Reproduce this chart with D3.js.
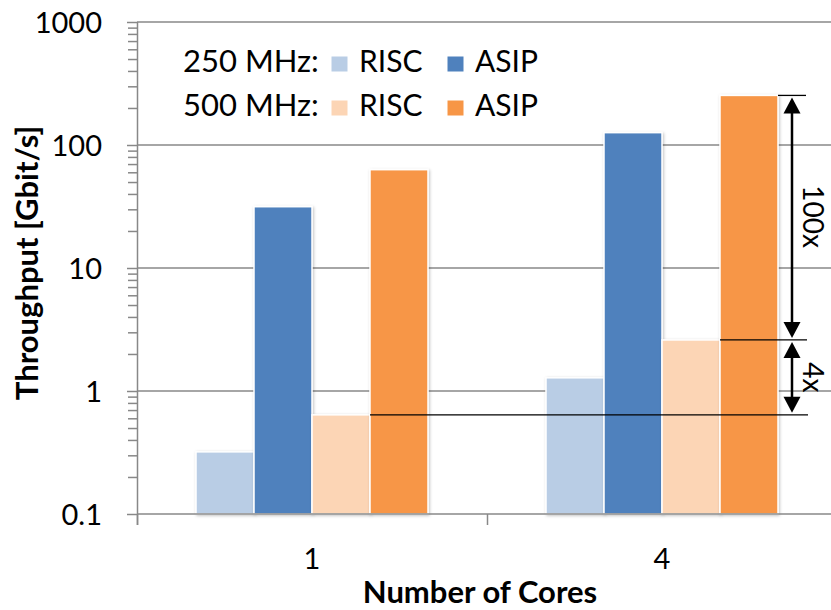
<!DOCTYPE html>
<html>
<head>
<meta charset="utf-8">
<script src="https://cdn.jsdelivr.net/npm/d3@7"></script>
<style>
  body { margin: 0; background: #fff; }
  text { font-family: Lato, "Open Sans", sans-serif; fill: #000; }
</style>
</head>
<body>
<div id="container"></div>
<script>
// data
const categories = ["1", "4"];
const risc250 = [0.32, 1.28];
const asip250 = [31.5, 126];
const risc500 = [0.64, 2.6];
const asip500 = [63, 253];
const seriesKeys = ["risc250", "asip250", "risc500", "asip500"];
const seriesColors = ["#b9cde5", "#4f81bd", "#fcd5b5", "#f79646"];
const freqLabels = ["250 MHz:", "500 MHz:"];
const archLabels = ["RISC", "ASIP"];
const yTicks = [0.1, 1, 10, 100, 1000];
const ratioLabels = ["100x", "4x"];

const w = 831, h = 610;
const padL = 137, padT = 22, padB = 514, padR = 837;

const table = categories.map((c, i) => ({
  cat: c, risc250: risc250[i], asip250: asip250[i], risc500: risc500[i], asip500: asip500[i]
}));

const svg = d3.select("#container").append("svg")
  .attr("width", w).attr("height", h);

const defs = svg.append("defs");
const f = defs.append("filter").attr("id", "shadow")
  .attr("x", "-20%").attr("y", "-20%").attr("width", "140%").attr("height", "140%");
f.append("feDropShadow").attr("dx", 1).attr("dy", 1).attr("stdDeviation", 1.5)
  .attr("flood-color", "#000").attr("flood-opacity", 0.25);

const x0 = d3.scaleBand().domain(categories).range([padL, padR]).padding(0);
const x1 = d3.scaleBand().domain(seriesKeys)
  .range([0, x0.bandwidth() * 232 / 350]).padding(0);
const offset = (x0.bandwidth() - x1.range()[1]) / 2;
const y = d3.scaleLog().domain([0.1, 1000]).range([padB, padT]);

// gridlines
svg.append("g").selectAll("line").data(yTicks.slice(1)).enter().append("line")
  .attr("x1", padL).attr("x2", padR)
  .attr("y1", d => y(d)).attr("y2", d => y(d))
  .attr("stroke", "#888").attr("stroke-width", 1.5);

// minor ticks
const minor = [];
yTicks.slice(0, -1).forEach(t => { for (let k = 2; k < 10; k++) minor.push(t * k); });
svg.append("g").attr("transform", "translate(" + padL + ",0)")
  .call(d3.axisLeft(y).tickValues(minor).tickSize(9).tickFormat(""))
  .call(g => g.select(".domain").remove())
  .call(g => g.selectAll("line").attr("stroke", "#888").attr("stroke-width", 1.5));

// y axis
svg.append("g").attr("id", "y-axis").attr("transform", "translate(" + padL + ",0)")
  .call(d3.axisLeft(y).tickValues(yTicks).tickSize(10).tickPadding(25)
    .tickFormat(d => String(d)))
  .call(g => g.select(".domain").attr("stroke", "#888").attr("stroke-width", 1.5)
    .attr("d", "M0.5," + padT + "V" + (padB + 11)))
  .call(g => g.selectAll("line").attr("stroke", "#888").attr("stroke-width", 1.5))
  .call(g => g.selectAll("text").attr("font-size", 29).attr("font-family", "Lato").attr("dy", "0.36em"));

// bars
const groups = svg.append("g").selectAll("g").data(table).enter().append("g")
  .attr("transform", d => "translate(" + (x0(d.cat) + offset) + ",0)");
groups.selectAll("rect")
  .data(d => seriesKeys.map((k, i) => ({ key: k, value: d[k], color: seriesColors[i] })))
  .enter().append("rect")
  .attr("x", d => x1(d.key))
  .attr("y", d => y(d.value))
  .attr("width", x1.bandwidth())
  .attr("height", d => padB - y(d.value))
  .attr("fill", d => d.color)
  .attr("stroke", "#fff").attr("stroke-width", 1.5)
  .attr("filter", "url(#shadow)");

// x axis
svg.append("line").attr("x1", padL).attr("x2", padR)
  .attr("y1", padB).attr("y2", padB)
  .attr("stroke", "#888").attr("stroke-width", 1.5);
svg.append("g").selectAll("line").data(categories).enter().append("line")
  .attr("x1", d => x0(d) + 0.5).attr("x2", d => x0(d) + 0.5)
  .attr("y1", padB).attr("y2", padB + 11)
  .attr("stroke", "#888").attr("stroke-width", 1.5);
svg.append("g").attr("id", "x-axis").attr("transform", "translate(0," + padB + ")")
  .call(d3.axisBottom(x0).tickSize(0).tickPadding(34))
  .call(g => g.select(".domain").remove())
  .call(g => g.selectAll("text").attr("font-size", 29).attr("font-family", "Lato"));

// axis titles
svg.append("text").attr("x", 480).attr("y", 603)
  .attr("text-anchor", "middle").attr("font-weight", "bold").attr("font-size", 31)
  .text("Number of Cores");
svg.append("text").attr("transform", "translate(38,263) rotate(-90)")
  .attr("text-anchor", "middle").attr("font-weight", "bold").attr("font-size", 31)
  .text("Throughput [Gbit/s]");

// legend
const legend = svg.append("g");
freqLabels.forEach((fl, r) => {
  const by = 72 + r * 44;
  legend.append("text").attr("x", 183).attr("y", by).attr("font-size", 31).text(fl);
  archLabels.forEach((al, c) => {
    const sx = 331 + c * 116;
    legend.append("rect").attr("x", sx).attr("y", by - 16).attr("width", 17).attr("height", 16)
      .attr("fill", seriesColors[r * 2 + c]).attr("stroke", "#fff").attr("stroke-width", 1);
    legend.append("text").attr("x", sx + 28).attr("y", by).attr("font-size", 30).text(al);
  });
});

// ratio annotations
const catB = categories[1];
const yTop = y(asip500[1]), yMid = y(risc500[1]), yLow = y(risc500[0]);
const ax = 792;
const ann = svg.append("g");
ann.append("line").attr("x1", x0(catB) + offset + x1("asip500") + x1.bandwidth()).attr("x2", 806)
  .attr("y1", yTop).attr("y2", yTop).attr("stroke", "#000").attr("stroke-width", 1.3);
ann.append("line").attr("x1", x0(catB) + offset + x1("risc500") + x1.bandwidth()).attr("x2", 807)
  .attr("y1", yMid).attr("y2", yMid).attr("stroke", "#000").attr("stroke-width", 1.3);
ann.append("line").attr("x1", x0(categories[0]) + offset + x1("risc500") + x1.bandwidth()).attr("x2", 808)
  .attr("y1", yLow).attr("y2", yLow).attr("stroke", "#000").attr("stroke-width", 1.3);

function arrow(y1, y2) {
  ann.append("line").attr("x1", ax).attr("x2", ax).attr("y1", y1 + 10).attr("y2", y2 - 10)
    .attr("stroke", "#000").attr("stroke-width", 2.5);
  ann.append("path").attr("d", "M" + ax + "," + (y1 + 2) + "l-8.5,16h17z").attr("fill", "#000");
  ann.append("path").attr("d", "M" + ax + "," + (y2 - 2) + "l-8.5,-16h17z").attr("fill", "#000");
}
arrow(yTop, yMid);
arrow(yMid, yLow);

ann.append("text").attr("transform", "translate(803," + ((yTop + yMid) / 2 - 1) + ") rotate(90)")
  .attr("text-anchor", "middle").attr("font-size", 28).text(ratioLabels[0]);
ann.append("text").attr("transform", "translate(803," + ((yMid + yLow) / 2) + ") rotate(90)")
  .attr("text-anchor", "middle").attr("font-size", 28).text(ratioLabels[1]);
</script>
</body>
</html>
